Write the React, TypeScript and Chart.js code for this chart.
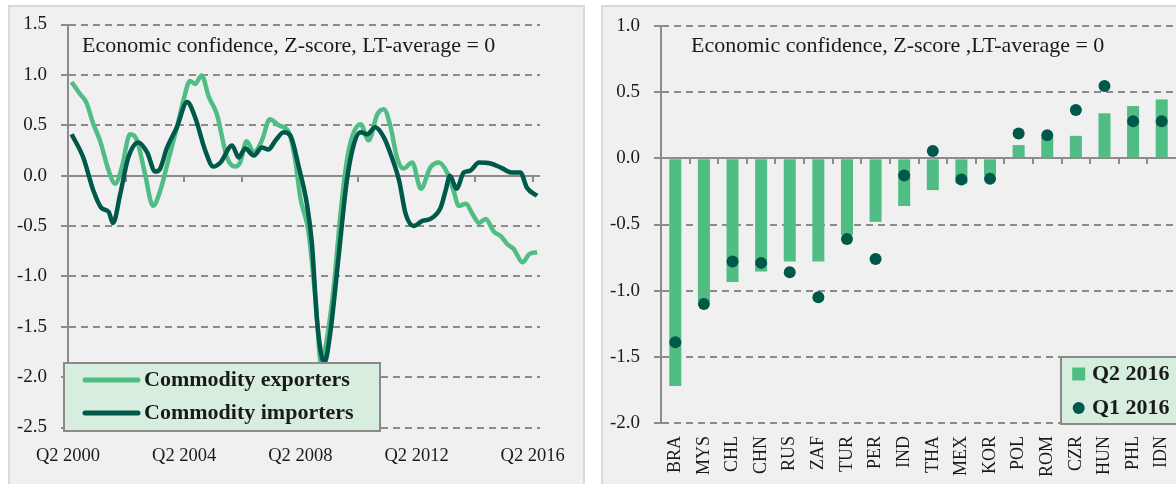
import React, { useEffect, useRef } from 'react';
import { Chart, registerables } from 'chart.js';

Chart.register(...registerables);

// ---------- data ----------
// Left panel: time in quarters since Q2 2000
const exportersT = [0.5, 1.66, 2.5, 3.5, 4.4, 5.6, 6.5, 7.4, 8.55, 9.5, 10.6, 11.7, 12.7, 13.8, 15, 15.9, 16.8, 17.5, 18.4, 19.4, 20.5, 21.9, 23, 23.7, 24.6, 25.6, 26.7, 27.8, 29, 30.4, 31.3, 32, 33.1, 34.1, 34.85, 35.7, 36.6, 37.5, 38.3, 39.2, 40.3, 41.4, 42.6, 43.5, 44.4, 45.3, 46.2, 47.4, 48.6, 49.9, 51.1, 52.2, 53.1, 53.8, 54.8, 55.7, 56.6, 57.5, 58.7, 59.6, 60.5, 61.4, 62.6, 63.5, 64.6];
const exportersV = [0.93, 0.81, 0.73, 0.51, 0.35, 0.05, -0.08, 0.08, 0.41, 0.35, 0.02, -0.30, -0.15, 0.15, 0.48, 0.75, 0.94, 0.91, 0.995, 0.78, 0.61, 0.18, 0.09, 0.13, 0.34, 0.23, 0.35, 0.56, 0.50, 0.43, 0.15, -0.22, -0.55, -1.24, -1.86, -1.6, -1.1, -0.4, 0.1, 0.4, 0.51, 0.35, 0.61, 0.66, 0.49, 0.18, 0.07, 0.13, -0.13, 0.08, 0.13, 0.03, -0.15, -0.30, -0.28, -0.38, -0.47, -0.43, -0.56, -0.60, -0.68, -0.73, -0.86, -0.78, -0.76];

const importersT = [0.5, 2.1, 3.5, 4.6, 5.6, 6.2, 7.2, 8.3, 9.7, 10.9, 12, 12.7, 13.6, 15, 16.4, 17.5, 18.9, 20, 21, 22.6, 23.5, 24.4, 25.6, 26.7, 27.6, 28.6, 29.7, 30.6, 31.8, 32.9, 33.6, 34.3, 35.3, 36.1, 37.3, 38.4, 39.4, 40.3, 41.2, 42.3, 43.5, 44.4, 45.6, 46.5, 47.6, 48.8, 49.9, 51.3, 52, 52.6, 53.5, 54.5, 55.4, 56.6, 58.2, 59.6, 61.2, 62.3, 63.2, 64.6];
const importersV = [0.41, 0.18, -0.15, -0.32, -0.36, -0.47, -0.18, 0.18, 0.33, 0.23, 0.04, 0.07, 0.27, 0.48, 0.73, 0.58, 0.25, 0.09, 0.13, 0.30, 0.18, 0.27, 0.20, 0.28, 0.26, 0.35, 0.43, 0.40, 0.08, -0.28, -0.68, -1.44, -1.86, -1.57, -0.78, -0.05, 0.32, 0.43, 0.41, 0.48, 0.38, 0.22, -0.05, -0.38, -0.50, -0.45, -0.43, -0.32, -0.15, 0.0, -0.13, 0.03, 0.05, 0.13, 0.12, 0.08, 0.03, 0.03, -0.12, -0.20];

const leftTickQuarters = [0, 8, 16, 24, 32, 40, 48, 56, 64];
const leftLabelEvery = 16;
const leftStartYear = 2000;

// Right panel
const countries = ['BRA', 'MYS', 'CHL', 'CHN', 'RUS', 'ZAF', 'TUR', 'PER', 'IND', 'THA', 'MEX', 'KOR', 'POL', 'ROM', 'CZR', 'HUN', 'PHL', 'IDN'];
const q2_2016 = [-1.72, -1.08, -0.935, -0.855, -0.78, -0.78, -0.58, -0.48, -0.36, -0.24, -0.19, -0.13, 0.10, 0.16, 0.17, 0.34, 0.395, 0.445];
const q1_2016 = [-1.39, -1.10, -0.78, -0.79, -0.86, -1.05, -0.61, -0.76, -0.13, 0.055, -0.16, -0.155, 0.187, 0.174, 0.365, 0.546, 0.28, 0.28];

const leftTitle = 'Economic confidence, Z-score, LT-average = 0';
const rightTitle = 'Economic confidence, Z-score ,LT-average = 0';

// ---------- style ----------
const LIGHT = '#4fbd84';
const DARK = '#00584a';
const GRID = '#8c8c8c';
const TEXT = '#1a1a1a';
const FONT = '"Liberation Serif", "Times New Roman", serif';

type LegendItem = { label: string; color: string; kind: 'line' | 'square' | 'dot' };

function makeDecor(opts: {
  id: string;
  tickPixels: (chart: any) => number[];
  titleText: string;
  titleDX: number;
  titleBaseline: number;
  legend: LegendItem[];
  legendBox: (ca: any) => { x: number; y: number; w: number; h: number };
  rowYs: number[];
  markerX: number;
  markerW: number;
  textX: number;
}) {
  return {
    id: opts.id,
    beforeDatasetsDraw(chart: any) {
      const { ctx, chartArea } = chart;
      const ys = chart.scales.y;
      const y0 = Math.round(ys.getPixelForValue(0));
      ctx.save();
      ctx.strokeStyle = GRID;
      ctx.lineWidth = 2;
      ctx.setLineDash([]);
      ctx.beginPath();
      ctx.moveTo(chartArea.left - 7, y0);
      ctx.lineTo(chartArea.right, y0);
      for (const px of opts.tickPixels(chart)) {
        const x = Math.round(px);
        ctx.moveTo(x, y0);
        ctx.lineTo(x, y0 + 6);
      }
      ctx.stroke();
      ctx.restore();
    },
    afterDraw(chart: any) {
      const { ctx, chartArea } = chart;
      ctx.save();
      // title
      ctx.fillStyle = TEXT;
      ctx.font = `22px ${FONT}`;
      ctx.textBaseline = 'alphabetic';
      ctx.textAlign = 'left';
      ctx.fillText(opts.titleText, chartArea.left + opts.titleDX, opts.titleBaseline);
      // legend
      const b = opts.legendBox(chartArea);
      ctx.fillStyle = '#d7eedf';
      ctx.fillRect(b.x, b.y, b.w, b.h);
      ctx.strokeStyle = '#8a8a8a';
      ctx.lineWidth = 2;
      ctx.strokeRect(b.x, b.y, b.w, b.h);
      opts.legend.forEach((it, i) => {
        const cy = b.y + opts.rowYs[i];
        if (it.kind === 'line') {
          ctx.strokeStyle = it.color;
          ctx.lineWidth = 5;
          ctx.lineCap = 'round';
          ctx.beginPath();
          ctx.moveTo(b.x + opts.markerX, cy);
          ctx.lineTo(b.x + opts.markerX + opts.markerW, cy);
          ctx.stroke();
        } else if (it.kind === 'square') {
          ctx.fillStyle = it.color;
          ctx.fillRect(b.x + opts.markerX - 6.5, cy - 6.5, 13, 13);
        } else {
          ctx.fillStyle = it.color;
          ctx.beginPath();
          ctx.arc(b.x + opts.markerX, cy, 6, 0, Math.PI * 2);
          ctx.fill();
        }
        ctx.fillStyle = TEXT;
        ctx.font = `bold 22px ${FONT}`;
        ctx.textBaseline = 'middle';
        ctx.fillText(it.label, b.x + opts.textX, cy);
      });
      ctx.restore();
    },
  };
}

const tickFont = (size: number) => ({ family: FONT, size, weight: 'normal' as const });

// canvases start above the panels so the plot top can sit close to the panel top
const CANVAS_TOP = -5;
const CANVAS_H = 489;

function LeftChart() {
  const ref = useRef<HTMLCanvasElement | null>(null);
  useEffect(() => {
    if (!ref.current) return;
    const decor = makeDecor({
      id: 'decorLeft',
      tickPixels: (chart) => leftTickQuarters.filter((q) => q > 0).map((q) => chart.scales.x.getPixelForValue(q)),
      titleText: leftTitle,
      titleDX: 14,
      titleBaseline: 52 - CANVAS_TOP,
      legend: [
        { label: 'Commodity exporters', color: LIGHT, kind: 'line' },
        { label: 'Commodity importers', color: DARK, kind: 'line' },
      ],
      legendBox: (ca) => ({ x: ca.left - 4, y: ca.bottom - 64.5, w: 316, h: 68 }),
      rowYs: [17, 50],
      markerX: 21,
      markerW: 53,
      textX: 80,
    });
    const chart = new Chart(ref.current, {
      type: 'line',
      data: {
        datasets: [
          {
            label: 'Commodity importers',
            data: importersT.map((t, i) => ({ x: t, y: importersV[i] })),
            borderColor: DARK,
            borderWidth: 4.5,
            pointRadius: 0,
            cubicInterpolationMode: 'monotone',
            borderJoinStyle: 'round',
            order: 0,
          },
          {
            label: 'Commodity exporters',
            data: exportersT.map((t, i) => ({ x: t, y: exportersV[i] })),
            borderColor: LIGHT,
            borderWidth: 4.5,
            pointRadius: 0,
            cubicInterpolationMode: 'monotone',
            borderJoinStyle: 'round',
            order: 1,
          },
        ],
      },
      options: {
        animation: false,
        responsive: false,
        maintainAspectRatio: false,
        layout: { padding: { left: 0, right: 45, top: 24.5 - CANVAS_TOP, bottom: 0 } },
        plugins: { legend: { display: false }, tooltip: { enabled: false } },
        scales: {
          x: {
            type: 'linear',
            min: 0,
            max: 65,
            afterBuildTicks: (s: any) => {
              s.ticks = leftTickQuarters.map((v) => ({ value: v }));
            },
            afterFit: (s: any) => {
              s.height = CANVAS_H - (427.5 - CANVAS_TOP);
            },
            grid: { display: false, drawTicks: false },
            border: { display: false },
            ticks: {
              autoSkip: false,
              maxRotation: 0,
              padding: 18,
              color: TEXT,
              font: tickFont(18.5),
              callback: (v: any) => (Number(v) % leftLabelEvery === 0 ? `Q2 ${leftStartYear + Number(v) / 4}` : ''),
            },
          },
          y: {
            min: -2.5,
            max: 1.5,
            afterFit: (s: any) => {
              s.width = 60;
            },
            ticks: {
              stepSize: 0.5,
              padding: 14,
              color: TEXT,
              font: tickFont(19),
              callback: (v: any) => Number(v).toFixed(1),
            },
            grid: { color: GRID, lineWidth: 2, tickLength: 7, tickColor: GRID, tickWidth: 2 },
            border: { display: true, color: GRID, width: 2, dash: [7, 5] },
          },
        },
      },
      plugins: [decor],
    } as any);
    return () => chart.destroy();
  }, []);
  return <canvas ref={ref} width={577} height={CANVAS_H} style={{ position: 'absolute', left: 8, top: CANVAS_TOP, width: 577, height: CANVAS_H }} />;
}

function RightChart() {
  const ref = useRef<HTMLCanvasElement | null>(null);
  useEffect(() => {
    if (!ref.current) return;
    const decor = makeDecor({
      id: 'decorRight',
      tickPixels: (chart) => {
        const xs = chart.scales.x;
        const out: number[] = [];
        for (let i = 1; i < countries.length; i++) out.push((xs.getPixelForValue(i - 1) + xs.getPixelForValue(i)) / 2);
        return out;
      },
      titleText: rightTitle,
      titleDX: 30,
      titleBaseline: 52 - CANVAS_TOP,
      legend: [
        { label: 'Q2 2016', color: LIGHT, kind: 'square' },
        { label: 'Q1 2016', color: DARK, kind: 'dot' },
      ],
      legendBox: (ca) => ({ x: ca.right - 115, y: ca.bottom - 66, w: 150, h: 67 }),
      rowYs: [17, 51],
      markerX: 17.7,
      markerW: 0,
      textX: 31,
    });
    const chart = new Chart(ref.current, {
      type: 'bar',
      data: {
        labels: countries,
        datasets: [
          {
            type: 'line',
            label: 'Q1 2016',
            data: q1_2016,
            showLine: false,
            pointRadius: 6,
            pointBackgroundColor: DARK,
            pointBorderWidth: 0,
            borderColor: DARK,
            order: 0,
          },
          {
            type: 'bar',
            label: 'Q2 2016',
            data: q2_2016,
            backgroundColor: LIGHT,
            barPercentage: 0.42,
            categoryPercentage: 1,
            order: 1,
          },
        ],
      },
      options: {
        animation: false,
        responsive: false,
        maintainAspectRatio: false,
        layout: { padding: { left: 0, right: 24, top: 26 - CANVAS_TOP, bottom: 0 } },
        plugins: { legend: { display: false }, tooltip: { enabled: false } },
        scales: {
          x: {
            afterFit: (s: any) => {
              s.height = CANVAS_H - (423 - CANVAS_TOP);
            },
            grid: { display: false, drawTicks: false, offset: true },
            border: { display: false },
            ticks: {
              autoSkip: false,
              minRotation: 90,
              maxRotation: 90,
              padding: 13,
              color: TEXT,
              font: tickFont(18),
            },
          },
          y: {
            min: -2,
            max: 1,
            afterFit: (s: any) => {
              s.width = 59;
            },
            ticks: {
              stepSize: 0.5,
              padding: 14,
              color: TEXT,
              font: tickFont(19),
              callback: (v: any) => Number(v).toFixed(1),
            },
            grid: { color: GRID, lineWidth: 2, tickLength: 7, tickColor: GRID, tickWidth: 2 },
            border: { display: true, color: GRID, width: 2, dash: [7, 5] },
          },
        },
      },
      plugins: [decor],
    } as any);
    return () => chart.destroy();
  }, []);
  return <canvas ref={ref} width={598} height={CANVAS_H} style={{ position: 'absolute', left: 602, top: CANVAS_TOP, width: 598, height: CANVAS_H }} />;
}

export default function App() {
  return (
    <div style={{ position: 'fixed', left: 0, top: 0, width: 1176, height: 484, overflow: 'hidden', background: '#ffffff' }}>
      <div style={{ position: 'absolute', left: 8, top: 5, width: 577, height: 500, boxSizing: 'border-box', background: '#f0f0f0', border: '2px solid #d9d9d9' }} />
      <div style={{ position: 'absolute', left: 601, top: 5, width: 620, height: 500, boxSizing: 'border-box', background: '#f0f0f0', border: '2px solid #d9d9d9' }} />
      <LeftChart />
      <RightChart />
    </div>
  );
}
